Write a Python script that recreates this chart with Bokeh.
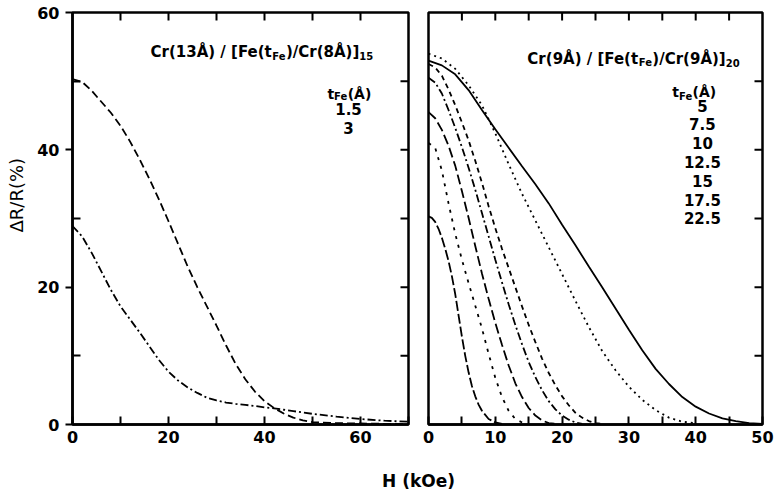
import math
from bokeh.plotting import figure
from bokeh.models import Range1d, FixedTicker, Label
from bokeh.layouts import column, row
from bokeh.embed import file_html
from bokeh.resources import INLINE

# ---------------- data ----------------
# Left panel: Cr(13A)/[Fe(tFe)/Cr(8A)]15
h_left = [0, 2, 4, 6, 8, 10, 12, 14, 16, 18, 20, 22, 24, 26, 28, 30, 32, 34, 36, 38,
          40, 42, 44, 46, 48, 50, 55, 60, 65, 70]
mr_left_1p5 = [50.3, 49.9, 48.6, 47.0, 45.4, 43.5, 41.2, 38.6, 35.8, 32.8, 29.6, 26.3,
               23.0, 20.0, 17.2, 14.4, 11.5, 8.8, 6.6, 4.8, 3.4, 2.4, 1.6, 1.0, 0.6,
               0.35, 0.2, 0.15, 0.1, 0.1]
mr_left_3 = [28.9, 27.4, 25.0, 22.3, 19.6, 17.2, 15.3, 13.4, 11.4, 9.4, 7.7, 6.4, 5.4,
             4.6, 3.9, 3.5, 3.2, 3.0, 2.85, 2.7, 2.5, 2.35, 2.15, 1.95, 1.75, 1.55,
             1.15, 0.8, 0.55, 0.4]
left_labels = ["1.5", "3"]

# Right panel: Cr(9A)/[Fe(tFe)/Cr(9A)]20
h_r5 = [0, 2, 4, 6, 8, 10, 12, 14, 16, 18, 20, 22, 24, 26, 28, 30, 32, 34, 36, 38, 40,
        42, 44, 46, 48, 50]
mr_r5 = [53.0, 52.3, 51.0, 48.7, 45.8, 43.0, 40.3, 37.6, 35.0, 32.2, 29.1, 26.1, 23.0,
         20.0, 16.9, 13.8, 10.8, 8.1, 5.9, 4.0, 2.6, 1.6, 0.9, 0.5, 0.2, 0.1]
h_r7p5 = [0, 2, 4, 6, 8, 10, 12, 14, 16, 18, 20, 22, 24, 26, 28, 30, 32, 34, 36, 38, 40]
mr_r7p5 = [54.0, 53.3, 51.8, 49.4, 46.5, 42.4, 37.9, 33.6, 29.7, 25.8, 21.9, 18.0, 14.2,
           10.7, 7.9, 5.5, 3.6, 2.1, 1.0, 0.4, 0.2]
h_r10 = [0, 1, 2, 3, 4, 5, 6, 7, 8, 9, 10, 11, 12, 13, 14, 15, 16, 17, 18, 19, 20, 21,
         22, 23, 24, 25, 26]
mr_r10 = [52.5, 52.0, 50.8, 48.8, 46.5, 44.0, 41.4, 38.4, 35.2, 31.8, 28.6, 25.6, 22.8,
          20.0, 17.2, 14.5, 12.0, 9.6, 7.5, 5.7, 4.1, 2.8, 1.7, 1.0, 0.5, 0.2, 0.1]
h_r12p5 = [0, 1, 2, 3, 4, 5, 6, 7, 8, 9, 10, 11, 12, 13, 14, 15, 16, 17, 18, 19, 20,
           21, 22, 23]
mr_r12p5 = [50.5, 49.8, 48.2, 45.8, 43.2, 40.4, 37.4, 34.2, 30.8, 27.4, 24.0, 20.7,
            17.5, 14.5, 11.7, 9.1, 6.9, 5.0, 3.4, 2.2, 1.3, 0.7, 0.3, 0.1]
h_r15 = [0, 1, 2, 3, 4, 5, 6, 7, 8, 9, 10, 11, 12, 13, 14, 15, 16, 17, 18, 19]
mr_r15 = [45.5, 44.6, 42.9, 40.6, 37.7, 34.0, 30.1, 26.0, 22.0, 18.3, 14.8, 11.6, 8.6,
          6.0, 4.0, 2.4, 1.3, 0.6, 0.2, 0.1]
h_r17p5 = [0, 1, 2, 3, 4, 5, 6, 7, 8, 9, 10, 11, 12, 13, 14, 15]
mr_r17p5 = [41.0, 40.3, 37.0, 32.2, 27.8, 24.0, 20.6, 17.3, 14.0, 10.3, 6.8, 4.0, 2.0,
            0.8, 0.3, 0.1]
h_r22p5 = [0, 0.5, 1, 1.5, 2, 2.5, 3, 3.5, 4, 4.5, 5, 5.5, 6, 6.5, 7, 7.5, 8, 9, 10, 11]
mr_r22p5 = [30.3, 30.1, 29.5, 28.5, 27.2, 25.6, 23.8, 21.6, 19.0, 15.9, 12.8, 10.0, 7.6,
            5.6, 4.1, 2.9, 2.0, 0.8, 0.3, 0.1]
right_labels = ["5", "7.5", "10", "12.5", "15", "17.5", "22.5"]

left_x_ticks = [0, 20, 40, 60]
left_x_minor = [10, 30, 50, 70]
left_y_ticks = [0, 20, 40, 60]
left_y_minor = [10, 30, 50]
left_top_ticks = [10, 20, 30, 40, 50, 60]
left_right_ticks = [10, 20, 30, 40, 50]
right_x_ticks = [0, 10, 20, 30, 40, 50]
right_x_minor = [5, 15, 25, 35, 45]
right_top_ticks = [5, 10, 15, 20, 25, 30, 35, 40, 45]
right_right_ticks = [10, 20, 30, 40, 50]

# ---------------- helpers ----------------
FONT = "DejaVu Sans"
W = {' ': 0.348, '(': 0.457, ')': 0.457, '/': 0.365, '[': 0.457, ']': 0.457,
     '.': 0.380, 'C': 0.734, 'r': 0.494, 'F': 0.683, 'e': 0.678, 't': 0.478,
     'Å': 0.774}
for d in "0123456789":
    W[d] = 0.696


def tw(s, size):
    return sum(W.get(c, 0.6) for c in s) * size


def composite(p, x, y_base, y_sub, parts, size=15, sub_size=10):
    off = 0.0
    for txt, sub in parts:
        fs = sub_size if sub else size
        p.add_layout(Label(x=x, y=y_sub if sub else y_base, x_offset=off, text=txt,
                           text_font=FONT, text_font_style="bold",
                           text_font_size=f"{fs}px", text_align="left",
                           text_baseline="alphabetic", text_color="black"))
        off += tw(txt, fs)


def style_axis(ax, ticks, minor, major_out=False):
    ax.ticker = FixedTicker(ticks=ticks, minor_ticks=minor)
    ax.axis_line_width = 2.5
    ax.axis_line_color = "black"
    ax.major_tick_line_width = 2
    ax.minor_tick_line_width = 2
    ax.major_tick_line_color = "black"
    ax.minor_tick_line_color = "black"
    ax.major_tick_in = 0 if major_out else 8
    ax.major_tick_out = 7 if major_out else 0
    ax.minor_tick_in = 8
    ax.minor_tick_out = 0
    ax.major_label_text_font = FONT
    ax.major_label_text_font_style = "bold"
    ax.major_label_text_font_size = "16px"
    ax.major_label_text_color = "black"
    ax.major_label_standoff = 6


def inner_ticks(p, xs, ys, angle):
    p.ray(x=xs, y=ys, length=8, length_units="screen", angle=angle,
          line_color="black", line_width=2)


def base_fig(width, xr, left, right, y_loc):
    p = figure(width=width, height=460, x_range=Range1d(*xr), y_range=Range1d(0, 60),
               output_backend="svg", toolbar_location=None, y_axis_location=y_loc,
               min_border_left=left, min_border_right=right, min_border_top=12,
               min_border_bottom=36)
    p.grid.visible = False
    p.outline_line_color = "black"
    p.outline_line_width = 2.5
    p.background_fill_color = "white"
    p.border_fill_color = "white"
    return p


def text_fig(width, height):
    p = figure(width=width, height=height, x_range=Range1d(0, 1), y_range=Range1d(0, 1),
               output_backend="svg", toolbar_location=None, x_axis_type=None,
               y_axis_type=None, min_border=0)
    p.grid.visible = False
    p.outline_line_color = None
    return p


# ---------------- y title strip ----------------
p0 = text_fig(32, 460)
p0.add_layout(Label(x=16, y=192, x_units="screen", y_units="screen", text="ΔR/R(%)",
                    angle=math.pi / 2, text_font=FONT, text_font_size="18px",
                    text_align="left", text_baseline="middle", text_color="black"))

# ---------------- left panel ----------------
p1 = base_fig(386, (0, 70), 40, 10, "left")
style_axis(p1.xaxis[0], left_x_ticks, left_x_minor)
style_axis(p1.yaxis[0], left_y_ticks, left_y_minor, major_out=True)
inner_ticks(p1, left_top_ticks, [60] * len(left_top_ticks), -math.pi / 2)
inner_ticks(p1, [70] * len(left_right_ticks), left_right_ticks, math.pi)

p1.line(h_left, mr_left_1p5, line_color="black", line_width=1.8, line_dash="8 4")
p1.line(h_left, mr_left_3, line_color="black", line_width=1.8, line_dash="8 3 2 3")

composite(p1, 16.25, 54.2, 53.6,
          [("Cr(13Å) / [Fe(t", False), ("Fe", True), (")/Cr(8Å)]", False), ("15", True)])
composite(p1, 53.1, 48.2, 47.7, [("t", False), ("Fe", True), ("(Å)", False)],
          size=14, sub_size=10)
for i, t in enumerate(left_labels):
    p1.add_layout(Label(x=57.5, y=46.0 - i * 2.75, text=t, text_font=FONT,
                        text_font_style="bold", text_font_size="15px",
                        text_align="center", text_baseline="middle",
                        text_color="black"))

# ---------------- right panel ----------------
p2 = base_fig(356, (0, 50), 10, 12, None)
style_axis(p2.xaxis[0], right_x_ticks, right_x_minor)
inner_ticks(p2, right_top_ticks, [60] * len(right_top_ticks), -math.pi / 2)
inner_ticks(p2, [50] * len(right_right_ticks), right_right_ticks, math.pi)

series = [
    (h_r5, mr_r5, "solid"),
    (h_r7p5, mr_r7p5, "2 4"),
    (h_r10, mr_r10, "5 4"),
    (h_r12p5, mr_r12p5, "8 3 2 3"),
    (h_r15, mr_r15, "10 4"),
    (h_r17p5, mr_r17p5, "3 6"),
    (h_r22p5, mr_r22p5, "10 3"),
]
for hx, ry, dash in series:
    p2.line(hx, ry, line_color="black", line_width=1.8, line_dash=dash)

composite(p2, 14.8, 53.3, 52.7,
          [("Cr(9Å) / [Fe(t", False), ("Fe", True), (")/Cr(9Å)]", False), ("20", True)])
composite(p2, 36.5, 48.35, 47.8, [("t", False), ("Fe", True), ("(Å)", False)],
          size=14, sub_size=10)
for i, t in enumerate(right_labels):
    p2.add_layout(Label(x=41.0, y=46.45 - i * 2.74, text=t, text_font=FONT,
                        text_font_style="bold", text_font_size="15px",
                        text_align="center", text_baseline="middle",
                        text_color="black"))

# ---------------- shared x label ----------------
p3 = text_fig(774, 41)
p3.add_layout(Label(x=418, y=21, x_units="screen", y_units="screen", text="H (kOe)",
                    text_font=FONT, text_font_style="bold", text_font_size="17px",
                    text_align="center", text_baseline="middle", text_color="black"))

layout = column(row(p0, p1, p2, spacing=0), p3, spacing=0)
open("out.html", "w").write(file_html(layout, INLINE))
